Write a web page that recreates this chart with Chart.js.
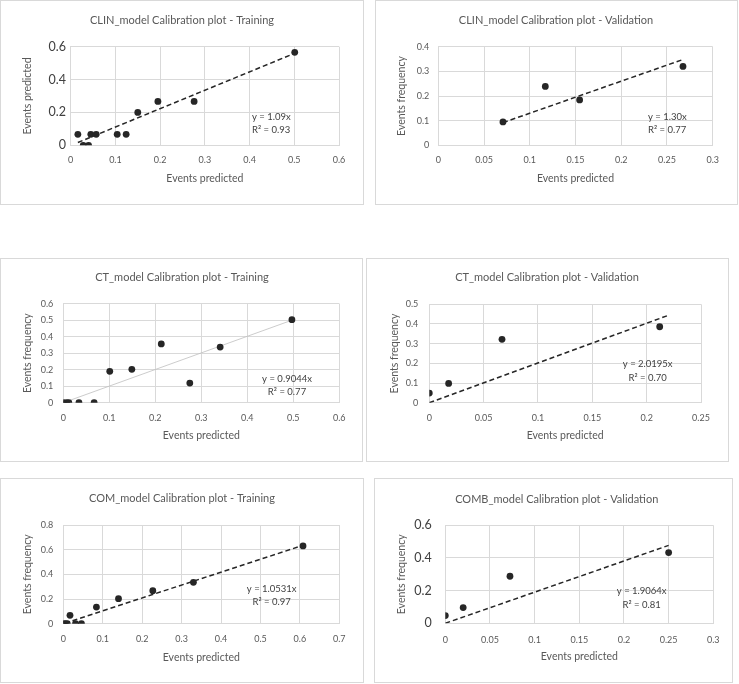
<!DOCTYPE html>
<html>
<head>
<meta charset="utf-8">
<script src="https://cdn.jsdelivr.net/npm/chart.js@4.4.0/dist/chart.umd.min.js"></script>
<style>
  body { margin: 0; background: #fff; width: 739px; height: 684px; position: relative; overflow: hidden; }
  .panel { position: absolute; }
</style>
</head>
<body>
<div class="panel" style="left:0px;top:0px;width:364px;height:205px"><canvas id="c1"></canvas></div>
<div class="panel" style="left:375px;top:0px;width:363px;height:205px"><canvas id="c2"></canvas></div>
<div class="panel" style="left:0px;top:258px;width:363px;height:204px"><canvas id="c3"></canvas></div>
<div class="panel" style="left:366px;top:258px;width:363px;height:204px"><canvas id="c4"></canvas></div>
<div class="panel" style="left:0px;top:478px;width:364px;height:205px"><canvas id="c5"></canvas></div>
<div class="panel" style="left:374px;top:478px;width:359px;height:205px"><canvas id="c6"></canvas></div>
<script>
// === DADOS ===
// CLIN - training
const clinTrainPred = [0.016, 0.028, 0.040, 0.045, 0.057, 0.104, 0.124, 0.150, 0.195, 0.276, 0.501];
const clinTrainObs  = [0.067, 0, 0, 0.067, 0.067, 0.067, 0.067, 0.200, 0.267, 0.267, 0.566];
const clinTrainTrendX = [0.016, 0.501];
const clinTrainTrendY = [0.017, 0.560];
// CLIN - validation
const clinValPred = [0.0707, 0.117, 0.1545, 0.2675];
const clinValObs  = [0.095, 0.239, 0.184, 0.320];
const clinValTrendX = [0.0707, 0.2675];
const clinValTrendY = [0.092, 0.348];
// CT - training
const ctTrainPred = [0, 0.007, 0.012, 0.034, 0.067, 0.101, 0.149, 0.213, 0.275, 0.341, 0.497];
const ctTrainObs  = [0, 0, 0, 0, 0, 0.190, 0.202, 0.356, 0.119, 0.337, 0.503];
const ctTrainTrendX = [0, 0.497];
const ctTrainTrendY = [0, 0.500];
// CT - validation
const ctValPred = [0, 0.0178, 0.0669, 0.212];
const ctValObs  = [0.049, 0.098, 0.322, 0.386];
const ctValTrendX = [0, 0.220];
const ctValTrendY = [0, 0.444];
// COM - training
const comTrainPred = [0, 0.005, 0.010, 0.017, 0.031, 0.046, 0.084, 0.140, 0.227, 0.330, 0.608];
const comTrainObs  = [0, 0, 0, 0.068, 0, 0, 0.135, 0.203, 0.268, 0.335, 0.630];
const comTrainTrendX = [0.004, 0.608];
const comTrainTrendY = [0.004, 0.635];
// COMB - validation
const combValPred = [0, 0.020, 0.0724, 0.250];
const combValObs  = [0.047, 0.096, 0.288, 0.433];
const combValTrendX = [0, 0.250];
const combValTrendY = [0, 0.477];

// Ticks
const xTicks06 = [0, 0.1, 0.2, 0.3, 0.4, 0.5, 0.6];
const xTicks07 = [0, 0.1, 0.2, 0.3, 0.4, 0.5, 0.6, 0.7];
const xTicks03 = [0, 0.05, 0.1, 0.15, 0.2, 0.25, 0.3];
const xTicks025 = [0, 0.05, 0.1, 0.15, 0.2, 0.25];
const yTicksBig06 = [0, 0.2, 0.4, 0.6];
const yTicks04 = [0, 0.1, 0.2, 0.3, 0.4];
const yTicks06 = [0, 0.1, 0.2, 0.3, 0.4, 0.5, 0.6];
const yTicks05 = [0, 0.1, 0.2, 0.3, 0.4, 0.5];
const yTicks08 = [0, 0.2, 0.4, 0.6, 0.8];

const FONT = 'Lato';
const TXT = '#595959';
const GRID = '#d9d9d9';

function toXY(xs, ys) {
  return xs.map((x, i) => ({ x: x, y: ys[i] }));
}

function makePlot(id, p) {
  const lh = 1.2;
  const axisTitleSize = 10.5;
  const half = axisTitleSize * lh / 2;
  const deco = {
    id: 'deco',
    afterDraw(chart) {
      const ctx = chart.ctx;
      ctx.save();
      ctx.strokeStyle = GRID;
      ctx.lineWidth = 1;
      ctx.strokeRect(0.5, 0.5, chart.width - 1, chart.height - 1);
      ctx.fillStyle = TXT;
      ctx.textBaseline = 'middle';
      ctx.textAlign = 'center';
      ctx.font = '11px ' + FONT;
      ctx.fillText(p.title, p.titleX, p.titleY);
      ctx.fillStyle = '#404040';
      ctx.font = '9.5px ' + FONT;
      ctx.textAlign = p.eqAlign;
      ctx.fillText(p.eq[0], p.eqX, p.eqY[0]);
      ctx.fillText(p.eq[1], p.eqX, p.eqY[1]);
      ctx.restore();
    }
  };
  return new Chart(document.getElementById(id), {
    type: 'scatter',
    data: {
      datasets: [
        {
          data: toXY(p.trendX, p.trendY),
          showLine: true,
          borderColor: p.trendColor || '#262626',
          borderWidth: p.trendWidth || 1.5,
          borderDash: p.trendDash === undefined ? [5, 3] : p.trendDash,
          pointRadius: 0,
          order: 2
        },
        {
          data: toXY(p.xs, p.ys),
          backgroundColor: '#262626',
          borderWidth: 0,
          pointRadius: 3.4,
          order: 1
        }
      ]
    },
    options: {
      responsive: true,
      maintainAspectRatio: false,
      animation: false,
      layout: { padding: { left: 0, top: p.area.t, right: p.w - p.area.r, bottom: 0 } },
      plugins: { legend: { display: false }, tooltip: { enabled: false } },
      scales: {
        x: {
          type: 'linear',
          min: p.xTicks[0],
          max: p.xTicks[p.xTicks.length - 1],
          afterBuildTicks: s => { s.ticks = p.xTicks.map(v => ({ value: v })); },
          afterFit: s => { s.height = p.h - p.area.b; },
          grid: { color: GRID, drawTicks: false },
          border: { color: GRID },
          ticks: {
            padding: p.xTickY - p.area.b - 9 * lh / 2,
            color: TXT,
            font: { family: FONT, size: 9, lineHeight: lh },
            callback: v => String(v),
            maxRotation: 0
          },
          title: {
            display: true,
            text: 'Events predicted',
            color: TXT,
            font: { family: FONT, size: axisTitleSize, lineHeight: lh },
            padding: { top: 0, bottom: p.h - p.xTitleY - half }
          }
        },
        y: {
          type: 'linear',
          min: p.yTicks[0],
          max: p.yTicks[p.yTicks.length - 1],
          afterBuildTicks: s => { s.ticks = p.yTicks.map(v => ({ value: v })); },
          afterFit: s => { s.width = p.area.l; },
          grid: { color: GRID, drawTicks: false },
          border: { color: GRID },
          ticks: {
            padding: p.area.l - p.yTickRight,
            color: p.bigY ? '#404040' : TXT,
            font: { family: FONT, size: p.bigY ? 12.5 : 9, lineHeight: lh },
            callback: v => String(v)
          },
          title: {
            display: true,
            text: p.yTitle,
            color: TXT,
            font: { family: FONT, size: axisTitleSize, lineHeight: lh },
            padding: { top: p.yTitleX - half, bottom: 0 }
          }
        }
      }
    },
    plugins: [deco]
  });
}

makePlot('c1', {
  w: 364, h: 205, area: { l: 70.7, t: 46.7, r: 339, b: 145.3 },
  xs: clinTrainPred, ys: clinTrainObs, trendX: clinTrainTrendX, trendY: clinTrainTrendY,
  xTicks: xTicks06, yTicks: yTicksBig06, bigY: true,
  yTitle: 'Events predicted', yTitleX: 28, yTickRight: 66, xTickY: 160, xTitleY: 179,
  title: 'CLIN_model Calibration plot - Training', titleX: 182, titleY: 20,
  eq: ['y = 1.09x', 'R² = 0.93'], eqAlign: 'left', eqX: 252, eqY: [117, 130]
});
makePlot('c2', {
  w: 363, h: 205, area: { l: 63.3, t: 46.7, r: 337.7, b: 145.3 },
  xs: clinValPred, ys: clinValObs, trendX: clinValTrendX, trendY: clinValTrendY,
  xTicks: xTicks03, yTicks: yTicks04,
  yTitle: 'Events frequency', yTitleX: 26.7, yTickRight: 54.3, xTickY: 160, xTitleY: 179,
  title: 'CLIN_model Calibration plot - Validation', titleX: 181, titleY: 20,
  eq: ['y = 1.30x', 'R² = 0.77'], eqAlign: 'left', eqX: 273, eqY: [117, 130]
});
makePlot('c3', {
  w: 363, h: 204, area: { l: 63.3, t: 45.7, r: 339.3, b: 144.7 },
  xs: ctTrainPred, ys: ctTrainObs, trendX: ctTrainTrendX, trendY: ctTrainTrendY,
  trendColor: '#bfbfbf', trendWidth: 0.8, trendDash: [],
  xTicks: xTicks06, yTicks: yTicks06,
  yTitle: 'Events frequency', yTitleX: 28, yTickRight: 53.3, xTickY: 159.7, xTitleY: 177.7,
  title: 'CT_model Calibration plot - Training', titleX: 182, titleY: 19.3,
  eq: ['y = 0.9044x', 'R² = 0.77'], eqAlign: 'center', eqX: 287, eqY: [121, 133.7]
});
makePlot('c4', {
  w: 363, h: 204, area: { l: 63.3, t: 46.3, r: 335, b: 144.7 },
  xs: ctValPred, ys: ctValObs, trendX: ctValTrendX, trendY: ctValTrendY,
  xTicks: xTicks025, yTicks: yTicks05,
  yTitle: 'Events frequency', yTitleX: 29, yTickRight: 52.3, xTickY: 159.7, xTitleY: 177.7,
  title: 'CT_model Calibration plot - Validation', titleX: 181, titleY: 19.3,
  eq: ['y = 2.0195x', 'R² = 0.70'], eqAlign: 'center', eqX: 281.7, eqY: [106, 120.3]
});
makePlot('c5', {
  w: 364, h: 205, area: { l: 63.3, t: 47, r: 339.3, b: 145.7 },
  xs: comTrainPred, ys: comTrainObs, trendX: comTrainTrendX, trendY: comTrainTrendY,
  xTicks: xTicks07, yTicks: yTicks08,
  yTitle: 'Events frequency', yTitleX: 28, yTickRight: 53.3, xTickY: 161.3, xTitleY: 179.3,
  title: 'COM_model Calibration plot - Training', titleX: 182, titleY: 20.3,
  eq: ['y = 1.0531x', 'R² = 0.97'], eqAlign: 'center', eqX: 271.7, eqY: [111.3, 124.3]
});
makePlot('c6', {
  w: 359, h: 205, area: { l: 71.3, t: 47.3, r: 339.3, b: 145.3 },
  xs: combValPred, ys: combValObs, trendX: combValTrendX, trendY: combValTrendY,
  xTicks: xTicks03, yTicks: yTicksBig06, bigY: true,
  yTitle: 'Events frequency', yTitleX: 27.7, yTickRight: 57.7, xTickY: 162, xTitleY: 179,
  title: 'COMB_model Calibration plot - Validation', titleX: 182.7, titleY: 21,
  eq: ['y = 1.9064x', 'R² = 0.81'], eqAlign: 'center', eqX: 267.7, eqY: [113, 127]
});
</script>
</body>
</html>
